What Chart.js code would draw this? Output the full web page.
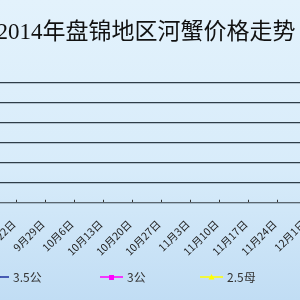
<!DOCTYPE html>
<html lang="zh">

<head>
    <meta charset="UTF-8" />
    <title>2014年盘锦地区河蟹价格走势</title>
    <script src="https://cdn.jsdelivr.net/npm/chart.js"></script>
    <style>
        html, body {
            margin: 0;
            padding: 0;
            width: 300px;
            height: 300px;
            overflow: hidden;
            background: linear-gradient(#e3f2fc 0%, #d8ecfa 55%, #c1ddf4 100%);
            font-family: "Noto Sans CJK SC", sans-serif;
        }

        .chart-box {
            position: absolute;
            left: -20px;
            top: 0;
        }

        .legend {
            position: absolute;
            top: 268px;
            left: 0;
            width: 300px;
            height: 18px;
        }

        .legend .item {
            position: absolute;
            top: 0;
            display: flex;
            align-items: center;
            font-size: 12px;
            color: #333;
            white-space: nowrap;
        }

        .legend .item canvas {
            margin-right: 4px;
        }

        .legend .item:nth-child(1) { left: -14px; }
        .legend .item:nth-child(2) { left: 100px; }
        .legend .item:nth-child(3) { left: 200px; }
    </style>
</head>

<body>
    <div class="chart-box">
        <canvas id="grafico" width="332" height="276"></canvas>
    </div>
    <div class="legend" id="leyenda"></div>

    <script>
        // semanas (eje X)
        const semanas = ['9月22日', '9月29日', '10月6日', '10月13日', '10月20日', '10月27日',
            '11月3日', '11月10日', '11月17日', '11月24日', '12月1日'];

        // series: en el recorte no se ve ningún punto
        const serie35gong = [null, null, null, null, null, null, null, null, null, null, null];
        const serie3gong = [null, null, null, null, null, null, null, null, null, null, null];
        const serie25mu = [null, null, null, null, null, null, null, null, null, null, null];

        const nombres = ['3.5公', '3公', '2.5母'];
        const colores = ['#1c2f9c', '#ff00ff', '#ffff00'];
        const marcadores = ['rectRot', 'rect', 'triangle'];

        const series = [serie35gong, serie3gong, serie25mu];

        const ctx = document.getElementById('grafico').getContext('2d');

        new Chart(ctx, {
            type: 'line',
            data: {
                labels: semanas,
                datasets: series.map((d, i) => ({
                    label: nombres[i],
                    data: d,
                    borderColor: colores[i],
                    backgroundColor: colores[i],
                    pointStyle: marcadores[i],
                    pointRadius: 3,
                    borderWidth: 2,
                    spanGaps: false
                }))
            },
            options: {
                responsive: false,
                devicePixelRatio: 1,
                animation: false,
                layout: { padding: 0 },
                plugins: {
                    legend: { display: false },
                    tooltip: { enabled: false },
                    title: {
                        display: true,
                        text: '2014年盘锦地区河蟹价格走势',
                        color: '#111',
                        font: { family: '"Liberation Serif", "Noto Sans CJK SC"', size: 23, weight: 'normal' },
                        padding: { top: 19, bottom: 36 }
                    }
                },
                scales: {
                    x: {
                        offset: true,
                        grid: {
                            offset: true,
                            drawOnChartArea: false,
                            drawTicks: true,
                            tickLength: -3,
                            color: '#333'
                        },
                        border: { display: true, color: '#5a6670', width: 1 },
                        ticks: {
                            autoSkip: false,
                            minRotation: 45,
                            maxRotation: 45,
                            padding: 18,
                            labelOffset: 12,
                            color: '#222',
                            font: { family: '"Noto Sans CJK SC"', size: 10.5 }
                        },
                        // sin margen extra por las etiquetas giradas
                        afterFit: s => { s.paddingLeft = 0; s.paddingRight = 0; }
                    },
                    y: {
                        min: 0,
                        max: 60,
                        ticks: { display: false, stepSize: 10 },
                        border: { display: false },
                        grid: { drawTicks: false, color: '#2e3d48', lineWidth: 1.2 },
                        afterFit: s => { s.width = 7; }
                    }
                }
            }
        });

        // leyenda con línea y marcador
        const leyenda = document.getElementById('leyenda');
        nombres.forEach((n, i) => {
            const item = document.createElement('div');
            item.className = 'item';
            const c = document.createElement('canvas');
            c.width = 23;
            c.height = 10;
            const g = c.getContext('2d');
            g.strokeStyle = colores[i];
            g.lineWidth = 1.5;
            g.beginPath();
            g.moveTo(0, 5);
            g.lineTo(23, 5);
            g.stroke();
            g.fillStyle = colores[i];
            if (marcadores[i] === 'rect') {
                g.fillRect(9, 3, 5, 5);
            } else if (marcadores[i] === 'triangle') {
                g.beginPath();
                g.moveTo(11.5, 2);
                g.lineTo(14.5, 7.5);
                g.lineTo(8.5, 7.5);
                g.closePath();
                g.fill();
            } else {
                g.beginPath();
                g.moveTo(11.5, 2);
                g.lineTo(14.5, 5);
                g.lineTo(11.5, 8);
                g.lineTo(8.5, 5);
                g.closePath();
                g.fill();
            }
            const t = document.createElement('span');
            t.textContent = n;
            item.appendChild(c);
            item.appendChild(t);
            leyenda.appendChild(item);
        });
    </script>
</body>

</html>
